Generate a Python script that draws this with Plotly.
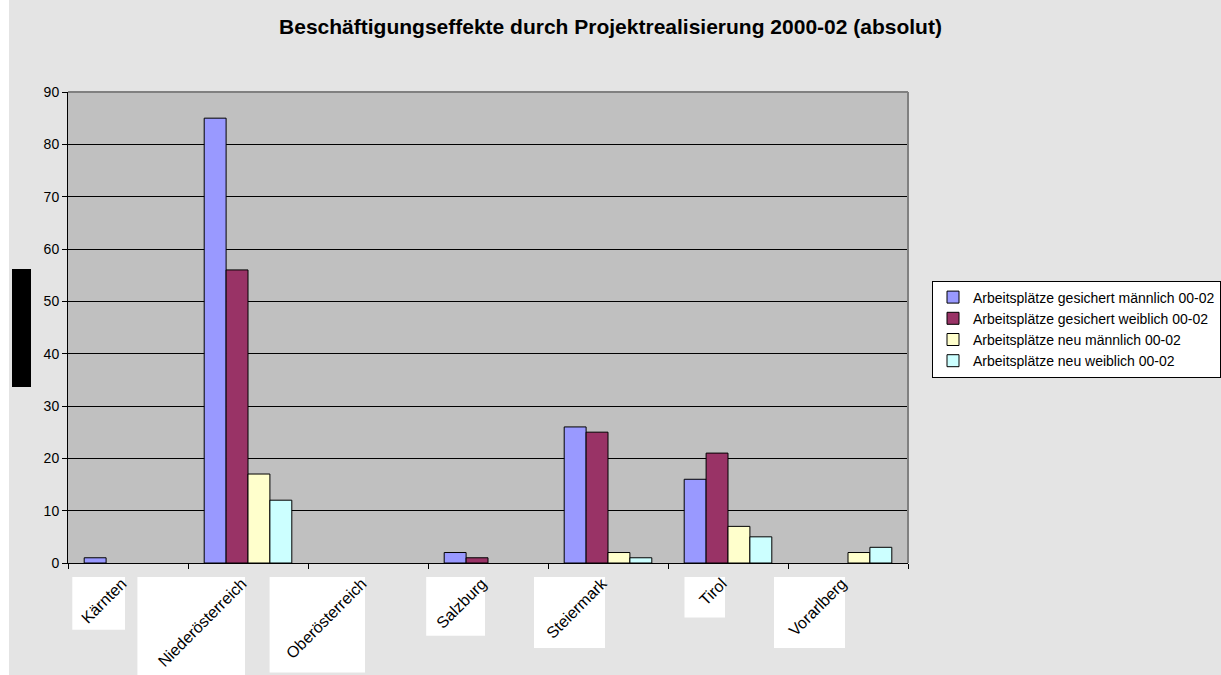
import plotly.graph_objects as go

categories = ["Kärnten", "Niederösterreich", "Oberösterreich", "Salzburg",
              "Steiermark", "Tirol", "Vorarlberg"]
series_names = ["Arbeitsplätze gesichert männlich 00-02",
                "Arbeitsplätze gesichert weiblich 00-02",
                "Arbeitsplätze neu männlich 00-02",
                "Arbeitsplätze neu weiblich 00-02"]
gesichert_m = [1, 85, 0, 2, 26, 16, 0]
gesichert_w = [0, 56, 0, 1, 25, 21, 0]
neu_m = [0, 17, 0, 0, 2, 7, 2]
neu_w = [0, 12, 0, 0, 1, 5, 3]
colors = ["#9999FF", "#993366", "#FFFFCC", "#CCFFFF"]
title_text = "Beschäftigungseffekte durch Projektrealisierung 2000-02 (absolut)"

FONT = "Liberation Sans, Arial, sans-serif"

fig = go.Figure()
for name, vals, col in zip(series_names, [gesichert_m, gesichert_w, neu_m, neu_w], colors):
    # zero values are not drawn as bars (as in the original)
    fig.add_trace(go.Bar(x=categories, y=[v if v else None for v in vals], name=name,
                         marker=dict(color=col, line=dict(color="black", width=1))))

# plot area in pixels: left 68, right 908, top 92, bottom 563
L, R, T, B = 68, 908, 92, 563
W, H = R - L, B - T

shapes = []
# white strip at the left edge
shapes.append(dict(type="rect", xref="paper", yref="paper",
                   x0=(-10 - L) / W, x1=(9 - L) / W, y0=-0.3, y1=1.3,
                   fillcolor="white", line=dict(width=0), layer="below"))
# black box (hidden axis title)
shapes.append(dict(type="rect", xref="paper", yref="paper",
                   x0=(12 - L) / W, x1=(31 - L) / W,
                   y0=(B - 387) / H, y1=(B - 269) / H,
                   fillcolor="black", line=dict(width=0)))
# gray plot border top/right
shapes.append(dict(type="line", xref="paper", yref="paper", x0=0, x1=1, y0=1, y1=1,
                   line=dict(color="#808080", width=2)))
shapes.append(dict(type="line", xref="paper", yref="paper", x0=1, x1=1, y0=0, y1=1,
                   line=dict(color="#808080", width=2)))
# white boxes behind the rotated category labels
n = len(categories)
for i, c in enumerate(categories):
    size = 6.1 * len(c) + 10
    xr = (i + 0.5) / n - 3 / W
    yt = (B - 577) / H
    shapes.append(dict(type="rect", xref="paper", yref="paper",
                       x0=xr - size / W, x1=xr, y0=yt - size / H, y1=yt,
                       fillcolor="white", line=dict(width=0), layer="below"))

fig.update_layout(
    width=1221, height=675,
    margin=dict(l=L, r=1221 - R, t=T, b=675 - B, autoexpand=False),
    paper_bgcolor="#E4E4E4",
    plot_bgcolor="#C0C0C0",
    barmode="group", bargap=0.27, bargroupgap=0,
    font=dict(family=FONT, color="black"),
    title=dict(text="<b>" + title_text + "</b>", x=0.5, xanchor="center",
               y=0.96, yanchor="middle", font=dict(size=21, family=FONT, color="black")),
    legend=dict(x=(932 - L) / W, xanchor="left", y=(B - 329) / H, yanchor="middle",
                bgcolor="white", bordercolor="black", borderwidth=1, itemwidth=30,
                font=dict(size=14, family=FONT), traceorder="normal"),
    shapes=shapes,
    xaxis=dict(showline=True, linecolor="black", linewidth=1,
               ticks="outside", ticklen=5, tickcolor="black", tickson="boundaries",
               tickangle=-45, tickfont=dict(size=16, family=FONT, color="black"),
               ticklabelshift=-6, ticklabelstandoff=4,
               showgrid=False, automargin=False),
    yaxis=dict(range=[0, 90], dtick=10, showline=True, linecolor="black", linewidth=1,
               ticks="outside", ticklen=5, tickcolor="black",
               showgrid=True, gridcolor="black", gridwidth=1, automargin=False,
               tickfont=dict(size=14, family=FONT, color="black"), zeroline=False),
)

fig.write_html("out.html")
